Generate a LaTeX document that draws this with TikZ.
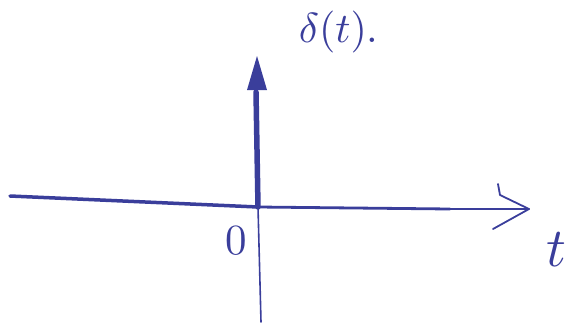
\documentclass[tikz,border=0pt]{standalone}
\usetikzlibrary{arrows.meta}
\definecolor{ink}{RGB}{58,62,155}
\begin{document}
\begin{tikzpicture}[x=1pt,y=-1pt,
  axis/.style={draw=ink,line width=3.5pt,line cap=round},
  thinaxis/.style={draw=ink,line width=1.6pt,line cap=round},
  lbl/.style={text=ink,inner sep=0pt}]
\useasboundingbox (0,0) rectangle (581,322);
\coordinate (O) at (258,207);
\coordinate (L) at (10,196);
\coordinate (R) at (529,209);
\coordinate (Top) at (257,56);
\coordinate (Bot) at (261,322);
% horizontal axis
\draw[axis] (L) -- (O);
\draw[axis,line width=2.8pt] (O) -- (450,209);
\draw[thinaxis] (450,209) -- (R);
\draw[ink,line width=1.8pt,line cap=round,line join=round] (498,184) -- (500,195) -- (R) -- (493,229);
% impulse
\draw[axis,line width=5.5pt] (O) -- (256,92);
\draw[thinaxis] (O) -- (Bot);
\fill[ink] (Top) -- (267,90) -- (247,90) -- cycle;
% labels
\node[lbl,scale=4.3] (zero) at (236,241) {0};
\node[lbl,scale=5.5] (tl) at (556,250) {$t$};
\node[lbl,scale=4.2,anchor=west] (delta) at (298,32) {$\delta(t)$.};
\end{tikzpicture}
\end{document}
